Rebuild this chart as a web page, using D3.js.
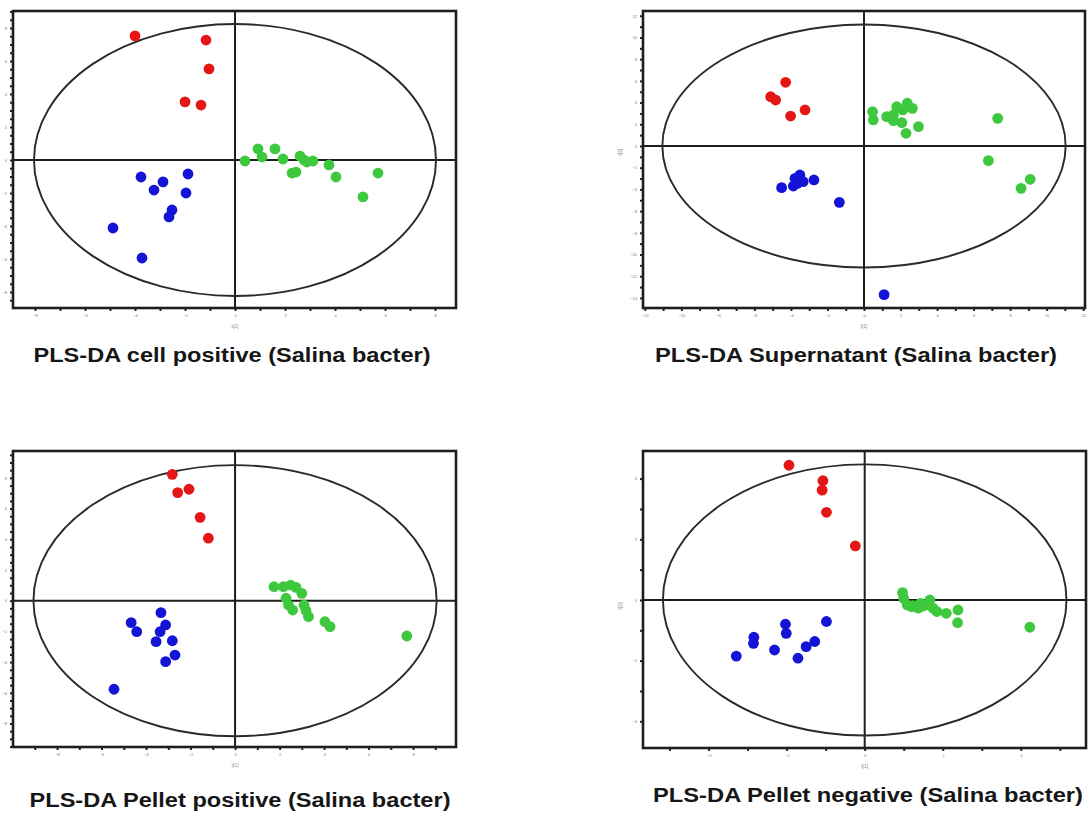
<!DOCTYPE html>
<html>
<head>
<meta charset="utf-8">
<script src="https://cdn.jsdelivr.net/npm/d3@7"></script>
<style>
  body { margin: 0; background: #fff; }
  svg { display: block; }
</style>
</head>
<body>
<div id="chart"></div>
<script>
// PLS-DA score plots - 4 panels

// titles of the panels
const titles = [
  "PLS-DA cell positive (Salina bacter)",
  "PLS-DA Supernatant (Salina bacter)",
  "PLS-DA Pellet positive (Salina bacter)",
  "PLS-DA Pellet negative (Salina bacter)"
];

// score values [t1, t2] per group
// cell positive
const cellRed = [[-4.0, 7.52], [-1.16, 7.27], [-1.04, 5.52], [-2.0, 3.52], [-1.36, 3.33]];
const cellBlue = [[-3.76, -1.03], [-1.88, -0.85], [-2.88, -1.33], [-3.24, -1.82], [-1.96, -2.0],
  [-2.52, -3.03], [-2.64, -3.45], [-4.88, -4.12], [-3.72, -5.94]];
const cellGreen = [[0.4, -0.06], [0.92, 0.67], [1.08, 0.18], [1.6, 0.67], [1.92, 0.06], [2.28, -0.79],
  [2.44, -0.73], [2.6, 0.24], [2.76, 0], [2.88, -0.12], [3.12, -0.06], [3.76, -0.3], [4.04, -1.03],
  [5.12, -2.24], [5.72, -0.79]];

// supernatant
const supRed = [[-4.29, 5.87], [-5.11, 4.54], [-4.84, 4.24], [-3.23, 3.32], [-4.02, 2.76]];
const supBlue = [[-4.51, -3.84], [-3.87, -3.69], [-3.65, -3.44], [-3.51, -2.67], [-3.78, -2.98],
  [-3.33, -3.29], [-2.74, -3.13], [-1.35, -5.19], [1.10, -13.7]];
const supGreen = [[0.47, 3.16], [0.51, 2.40], [1.24, 2.70], [1.61, 2.86], [1.79, 3.62], [2.12, 3.32],
  [2.37, 3.94], [2.65, 3.47], [1.61, 2.33], [2.07, 2.15], [2.98, 1.78], [2.30, 1.17], [7.32, 2.55],
  [6.81, -1.35], [8.60, -3.90], [9.10, -3.07]];

// pellet positive
const pelPosRed = [[-2.82, 8.23], [-2.58, 7.04], [-2.07, 7.26], [-1.57, 5.43], [-1.20, 4.07]];
const pelPosBlue = [[-3.33, -0.78], [-4.67, -1.43], [-4.42, -2.02], [-3.12, -1.58], [-3.37, -2.02],
  [-3.55, -2.67], [-2.82, -2.61], [-2.70, -3.54], [-3.12, -3.97], [-5.44, -5.77]];
const pelPosGreen = [[1.75, 0.91], [2.17, 0.91], [2.50, 1.02], [2.74, 0.87], [3.00, 0.48], [2.29, 0.16],
  [2.40, -0.28], [2.59, -0.61], [3.10, -0.28], [3.19, -0.65], [3.30, -1.04], [4.04, -1.37],
  [4.27, -1.69], [7.72, -2.30]];

// pellet negative
const pelNegRed = [[-1.94, 4.44], [-1.07, 3.93], [-1.09, 3.62], [-0.98, 2.89], [-0.24, 1.78]];
const pelNegBlue = [[-0.98, -0.71], [-2.03, -0.80], [-2.01, -1.10], [-2.84, -1.23], [-2.85, -1.43],
  [-2.31, -1.65], [-3.29, -1.85], [-1.71, -1.92], [-1.50, -1.54], [-1.28, -1.37]];
const pelNegGreen = [[0.97, 0.24], [1.00, 0.05], [1.09, -0.16], [1.24, -0.19], [1.37, -0.27],
  [1.43, -0.11], [1.58, -0.16], [1.67, 0.0], [1.75, -0.27], [1.85, -0.38], [2.09, -0.44],
  [2.39, -0.33], [2.38, -0.75], [4.23, -0.90], [1.20, -0.22], [1.50, -0.20]];

// axis ranges, ellipse radii and tick steps per panel
const xDomains = [[-8.88, 8.84], [-12.1, 12.1], [-9.98, 9.93], [-5.68, 5.67]];
const yDomains = [[-8.97, 9.03], [-14.93, 12.44], [-9.53, 9.75], [-4.88, 4.91]];
const ellipseRadii = [[8.04, 8.24], [11.04, 11.2], [9.06, 8.83], [5.17, 4.47]];
const xMinorSteps = [1, 1, 1, 1];
const yMinorSteps = [0.5, 1, 0.5, 1];

const panelData = [
  [cellRed, cellBlue, cellGreen],
  [supRed, supBlue, supGreen],
  [pelPosRed, pelPosBlue, pelPosGreen],
  [pelNegRed, pelNegBlue, pelNegGreen]
];
const groupColors = ["#e51616", "#1414d6", "#3ec83e"];

// layout of the 4 boxes
const boxes = [
  {left: 13, top: 11, right: 456, bottom: 308, tx: 232, ty: 362, tw: 397, yLabel: false},
  {left: 643, top: 11, right: 1085, bottom: 308, tx: 856, ty: 362, tw: 402, yLabel: true},
  {left: 13, top: 451, right: 456, bottom: 747, tx: 240, ty: 807, tw: 421, yLabel: false},
  {left: 643, top: 451, right: 1086, bottom: 748, tx: 868, ty: 802, tw: 430, yLabel: true}
];

const svg = d3.select("#chart")
  .append("svg")
    .attr("width", 1088)
    .attr("height", 813);

function evenTicks(domain, step) {
  let out = [];
  for (let v = Math.ceil(domain[0] / step) * step; v <= domain[1] + 1e-9; v += step) {
    out.push(+v.toFixed(3));
  }
  return out;
}

boxes.forEach(function(b, i) {
  const g = svg.append("g");

  const x = d3.scaleLinear().domain(xDomains[i]).range([b.left, b.right]);
  const y = d3.scaleLinear().domain(yDomains[i]).range([b.bottom, b.top]);

  // minor ticks
  g.append("g")
    .attr("transform", `translate(0, ${b.bottom})`)
    .call(d3.axisBottom(x).tickValues(evenTicks(xDomains[i], xMinorSteps[i])).tickSize(3).tickFormat(""))
    .call(s => s.select(".domain").remove())
    .selectAll("line").attr("stroke", "#222").attr("stroke-width", 2);
  g.append("g")
    .attr("transform", `translate(${b.left}, 0)`)
    .call(d3.axisLeft(y).tickValues(evenTicks(yDomains[i], yMinorSteps[i])).tickSize(3).tickFormat(""))
    .call(s => s.select(".domain").remove())
    .selectAll("line").attr("stroke", "#222").attr("stroke-width", 2);

  // major tick labels (tiny, as in the original)
  const xAx = g.append("g")
    .attr("transform", `translate(0, ${b.bottom})`)
    .call(d3.axisBottom(x).tickValues(evenTicks(xDomains[i], 2)).tickSize(0).tickPadding(6));
  xAx.select(".domain").remove();
  xAx.selectAll("text").attr("font-size", 4).attr("fill", "#777").attr("font-family", "Liberation Sans");

  const yAx = g.append("g")
    .attr("transform", `translate(${b.left}, 0)`)
    .call(d3.axisLeft(y).tickValues(evenTicks(yDomains[i], 2)).tickSize(0).tickPadding(6));
  yAx.select(".domain").remove();
  yAx.selectAll("text").attr("font-size", 4).attr("fill", "#777").attr("font-family", "Liberation Sans");

  // axis labels
  g.append("text")
    .attr("x", x(0)).attr("y", b.bottom + 20)
    .attr("text-anchor", "middle")
    .attr("font-size", 5).attr("fill", "#888")
    .attr("font-family", "Liberation Sans")
    .text("t[1]");
  if (b.yLabel) {
    g.append("text")
      .attr("transform", `translate(${b.left - 21}, ${y(0) + 6}) rotate(-90)`)
      .attr("text-anchor", "middle")
      .attr("font-size", 5).attr("fill", "#888")
      .attr("font-family", "Liberation Sans")
      .text("t[2]");
  }

  // frame
  g.append("rect")
    .attr("x", b.left).attr("y", b.top)
    .attr("width", b.right - b.left).attr("height", b.bottom - b.top)
    .attr("fill", "none")
    .attr("stroke", "#1e1e1e")
    .attr("stroke-width", 2.6);

  // zero lines
  g.append("line")
    .attr("x1", x(0)).attr("x2", x(0))
    .attr("y1", b.top).attr("y2", b.bottom)
    .attr("stroke", "#1e1e1e").attr("stroke-width", 2);
  g.append("line")
    .attr("x1", b.left).attr("x2", b.right)
    .attr("y1", y(0)).attr("y2", y(0))
    .attr("stroke", "#1e1e1e").attr("stroke-width", 2);

  // Hotelling ellipse
  g.append("ellipse")
    .attr("cx", x(0)).attr("cy", y(0))
    .attr("rx", x(ellipseRadii[i][0]) - x(0))
    .attr("ry", y(0) - y(ellipseRadii[i][1]))
    .attr("fill", "none")
    .attr("stroke", "#2a2a2a")
    .attr("stroke-width", 1.9);

  // points
  panelData[i].forEach(function(pts, k) {
    g.selectAll(null)
      .data(pts)
      .enter()
      .append("circle")
        .attr("cx", d => x(d[0]))
        .attr("cy", d => y(d[1]))
        .attr("r", 5.4)
        .attr("fill", groupColors[k]);
  });

  // title
  g.append("text")
    .attr("x", b.tx).attr("y", b.ty)
    .attr("text-anchor", "middle")
    .attr("font-family", "Liberation Sans, Arial, sans-serif")
    .attr("font-weight", "bold")
    .attr("font-size", 20)
    .attr("fill", "#161616")
    .attr("textLength", b.tw)
    .attr("lengthAdjust", "spacingAndGlyphs")
    .text(titles[i]);
});
</script>
</body>
</html>
